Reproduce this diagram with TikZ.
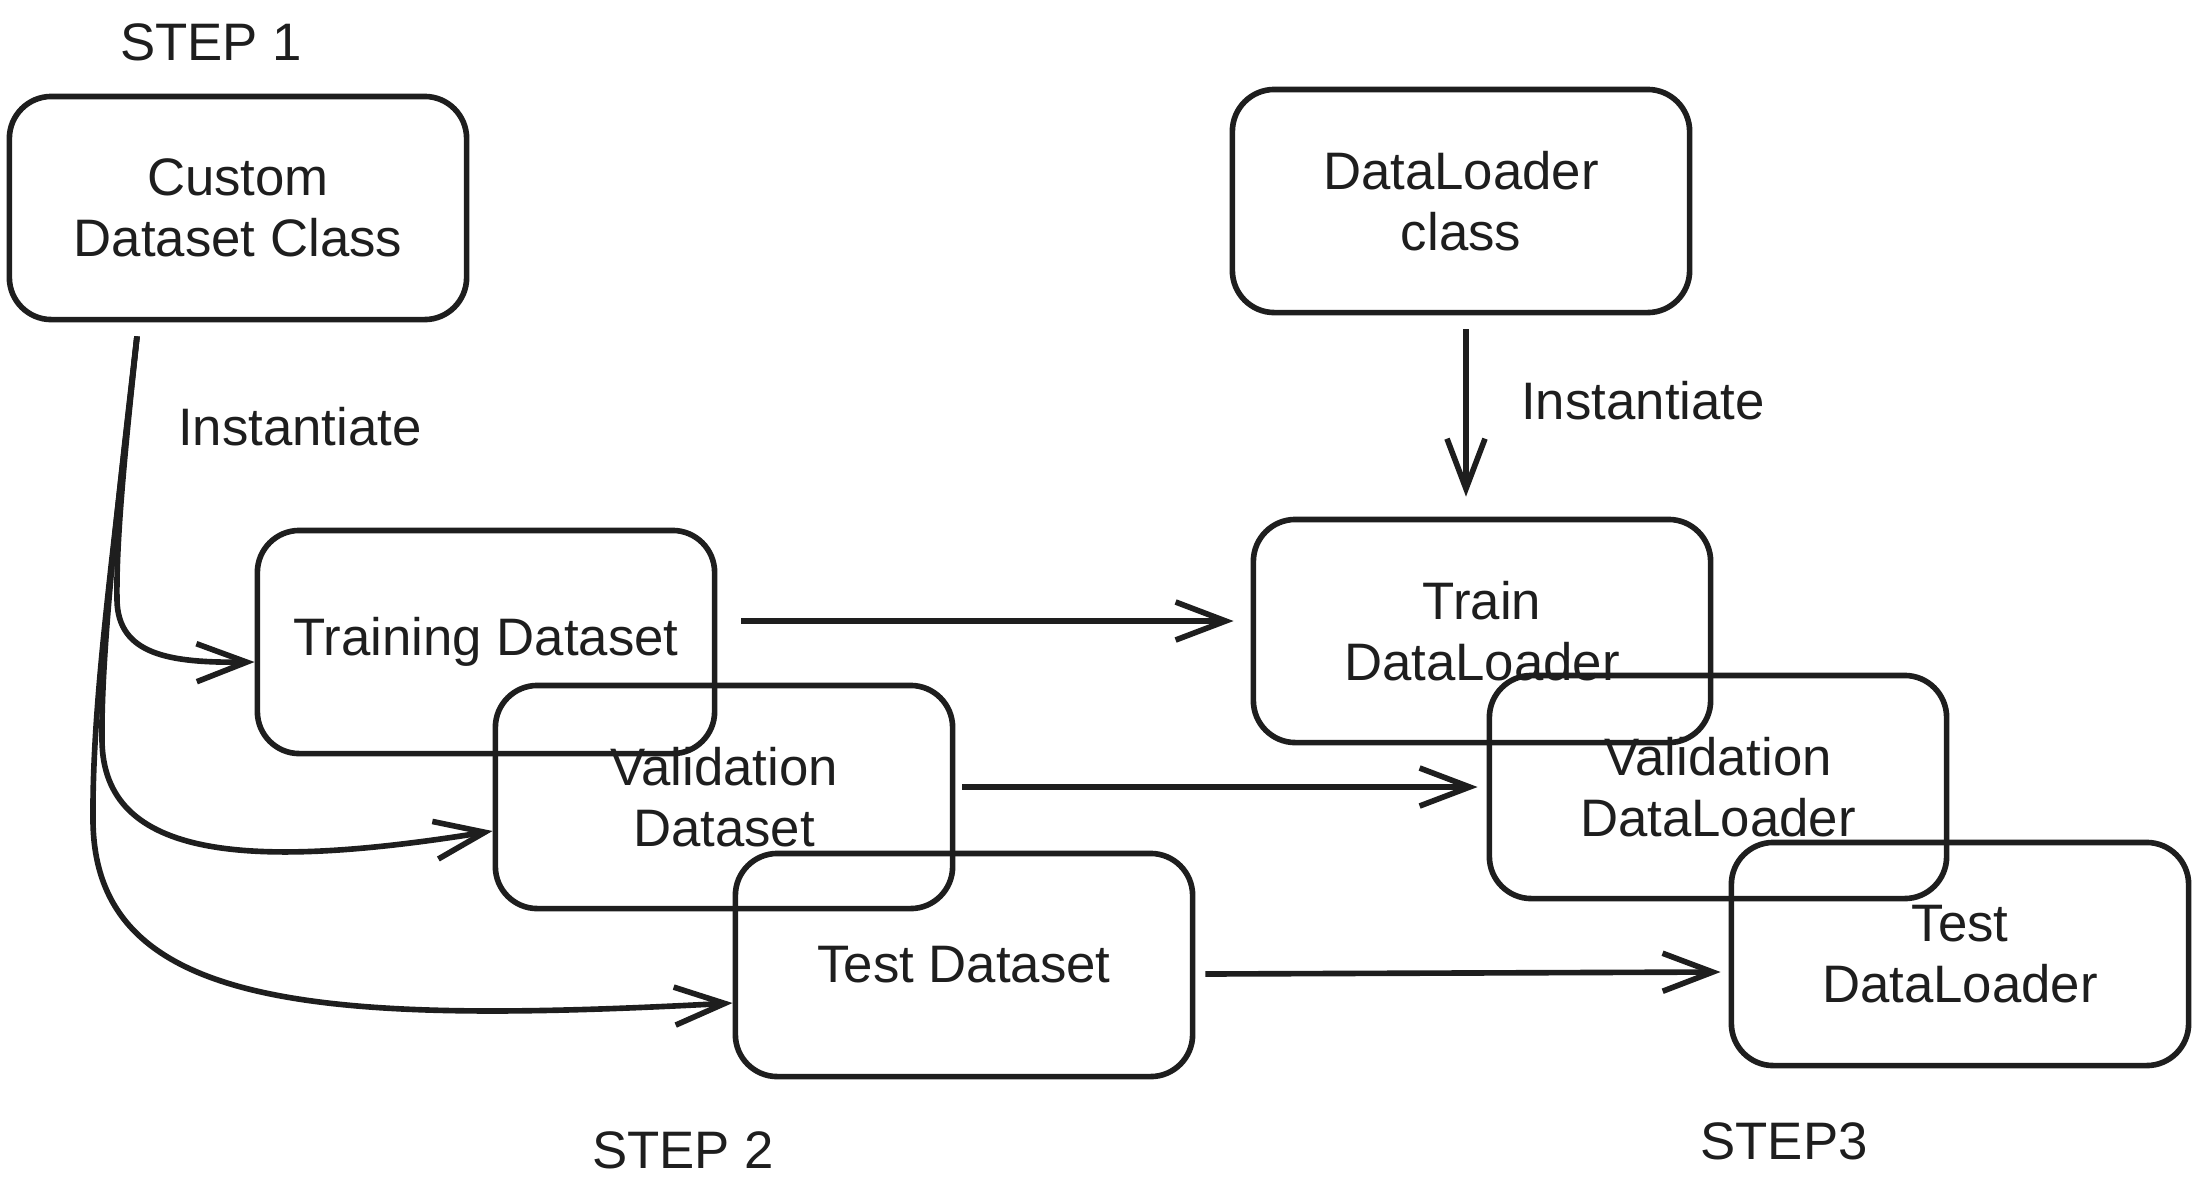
\documentclass[tikz,border=0pt]{standalone}
\usepackage{fontspec}
\setmainfont{Liberation Sans}
\usepackage{tikz}
\usetikzlibrary{arrows.meta, positioning}
\usepackage{xcolor}
\definecolor{inkline}{HTML}{1E1E1E}
\tikzset{%
	sketch box/.style={
		draw=inkline,
		line width=1.6pt,
		rounded corners=0.42cm,
		align=center,
		inner sep=0pt,
		minimum width=4.57cm,
		minimum height=2.23cm,
		text=inkline,
		font=\fontsize{15}{17.5}\selectfont
	},
	sketch arrow/.style={
		draw=inkline,
		line width=1.6pt,
		-{Straight Barb[length=0.5cm, width=0.38cm]}
	},
	sketch label/.style={
		text=inkline,
		inner sep=0pt,
		font=\fontsize{15}{17.5}\selectfont
	},
}
\begin{document}
\begin{tikzpicture}[x=0.01cm, y=-0.01cm]
			% Page frame in pixel units
			\useasboundingbox (0,0) rectangle (2208,1196);
			
			% Step 1 and step 3 classes
			\node[sketch box] (custom) at (238,208) {Custom\\Dataset Class};
			\node[sketch box] (dlclass) at (1461,201) {DataLoader\\class};
			
			% Datasets and data loaders, stacked diagonally
			\foreach \name/\px/\py/\txt in {trainds/486/642/{Training Dataset},
				valds/724/797/{Validation\\Dataset},
				testds/964/965/{Test Dataset},
				traindl/1482/631/{Train\\DataLoader},
				valdl/1718/787/{Validation\\DataLoader},
				testdl/1960/954/{Test\\DataLoader}} {
				\node[sketch box] (\name) at (\px,\py) {\txt};
			}
			
			% Step labels
			\node[sketch label] (step1) at (211,42) {STEP 1};
			\node[sketch label] (step2) at (683,1150) {STEP 2};
			\node[sketch label] (step3) at (1784,1141) {STEP3};
			\node[sketch label] (inst1) at (300,427) {Instantiate};
			\node[sketch label] (inst2) at (1643,401) {Instantiate};
			
			% Instantiate: class to the three datasets
			\coordinate (split) at ([shift={(-101,14)}]custom.south);
			\draw[sketch arrow] (split) .. controls (125,450) and (116,540) .. (117,600)
				.. controls (118,655) and (170,663) .. ([shift={(0,20)}]trainds.west);
			\draw[sketch arrow] (split) .. controls (118,500) and (101,650) .. (102,740)
				.. controls (103,860) and (250,870) .. ([shift={(0,34)}]valds.west);
			\draw[sketch arrow] (split) .. controls (114,550) and (92,700) .. (93,820)
				.. controls (94,1010) and (320,1025) .. ([shift={(0,38)}]testds.west);
			
			% Instantiate: DataLoader class to train loader
			\draw[sketch arrow] ([shift={(5,14)}]dlclass.south) -- ([shift={(-16,-20)}]traindl.north);
			
			% Dataset to data loader
			\draw[sketch arrow] ([shift={(24,-21)}]trainds.east) -- ([shift={(-17,-10)}]traindl.west);
			\draw[sketch arrow] ([shift={(7,-10)}]valds.east) -- ([shift={(-9,0)}]valdl.west);
			\draw[sketch arrow] ([shift={(10,9)}]testds.east) -- ([shift={(-8,18)}]testdl.west);
		\end{tikzpicture}
\end{document}
